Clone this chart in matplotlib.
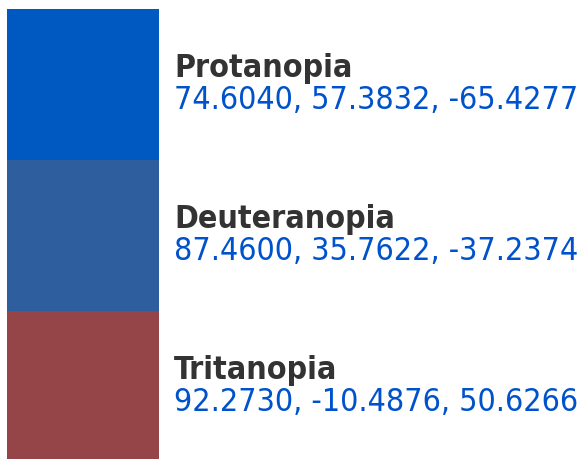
import matplotlib
matplotlib.use("Agg")
import matplotlib.pyplot as plt
import matplotlib.transforms as mtransforms

names = ["Protanopia", "Deuteranopia", "Tritanopia"]
values = ["74.6040, 57.3832, -65.4277", "87.4600, 35.7622, -37.2374", "92.2730, -10.4876, 50.6266"]
colors = ["#0059C0", "#2E5E9E", "#954548"]

W, H = 580, 459
fig = plt.figure(figsize=(W / 100, H / 100), dpi=100)
fig.patch.set_facecolor("white")
ax = fig.add_axes([7 / W, (H - 9 - 453) / H, 152 / W, 453 / H])
ax.barh(range(len(names)), [1] * len(names), height=1.0, color=colors, left=0)
ax.set_xlim(0, 1)
ax.set_ylim(len(names) - 0.5, -0.5)
ax.axis("off")

trans = mtransforms.blended_transform_factory(ax.transAxes, ax.transData)
xt = (174 - 7) / 152
for i, (n, v) in enumerate(zip(names, values)):
    ax.text(xt, i - 0.05, n, transform=trans, fontsize=23, fontweight="bold",
            fontstretch="condensed",
            color="#333333", va="baseline", ha="left", clip_on=False,
            family="DejaVu Sans")
    ax.text(xt, i + 0.162, v, transform=trans, fontsize=23,
            fontstretch="condensed",
            color="#0052CC", va="baseline", ha="left", clip_on=False,
            family="DejaVu Sans")

fig.savefig("out.png", dpi=100, facecolor="white")
